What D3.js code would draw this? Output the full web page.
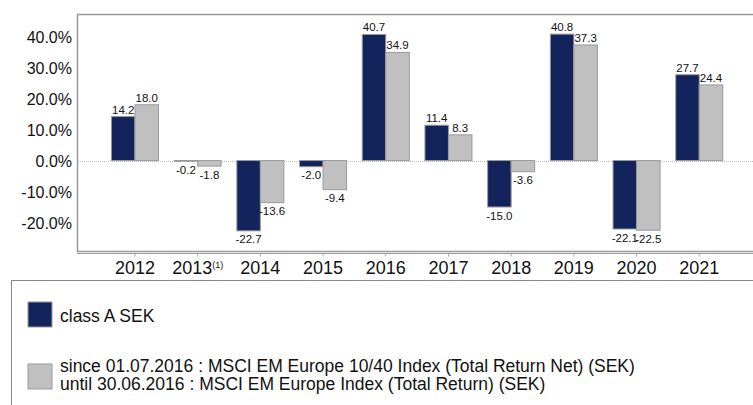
<!DOCTYPE html>
<html>
<head>
<meta charset="utf-8">
<script src="https://cdn.jsdelivr.net/npm/d3@7"></script>
<style>
  body { margin: 0; background: #fff; }
  svg { display: block; font-family: "Liberation Sans", Arial, sans-serif; }
</style>
</head>
<body>
<div id="chart"></div>
<script>
// data
const years = ["2012", "2013", "2014", "2015", "2016", "2017", "2018", "2019", "2020", "2021"];
const fundValues  = [14.2, -0.2, -22.7, -2.0, 40.7, 11.4, -15.0, 40.8, -22.1, 27.7];
const indexValues = [18.0, -1.8, -13.6, -9.4, 34.9, 8.3, -3.6, 37.3, -22.5, 24.4];
const yTicks = [-20, -10, 0, 10, 20, 30, 40];
const seriesKeys = ["fund", "index"];
const legendLabels = [
  ["class A SEK"],
  ["since 01.07.2016 : MSCI EM Europe 10/40 Index (Total Return Net) (SEK)",
   "until 30.06.2016 : MSCI EM Europe Index (Total Return) (SEK)"]
];

const colors = { fund: "#13235b", index: "#c0c0c0" };

const W = 753, H = 405;
const frame = { left: 77, top: 14, right: 760, bottom: 251 };

const svg = d3.select("#chart").append("svg")
  .attr("width", W)
  .attr("height", H);

const rows = years.map((yr, i) => ({ year: yr, fund: fundValues[i], index: indexValues[i] }));

// scales
const x = d3.scaleBand()
  .domain(years)
  .range([103.6, 730.6])
  .paddingInner(0.25)
  .paddingOuter(0.125);

const x1 = d3.scaleBand()
  .domain(seriesKeys)
  .range([0, x.bandwidth()]);

const y = d3.scaleLinear()
  .domain([-29.2, 47.3])
  .range([frame.bottom, frame.top]);

// frame
svg.append("rect")
  .attr("x", frame.left + 0.5)
  .attr("y", frame.top + 0.5)
  .attr("width", frame.right - frame.left)
  .attr("height", frame.bottom - frame.top)
  .attr("fill", "none")
  .attr("stroke", "#999")
  .attr("stroke-width", 1.5);

// y axis labels
svg.append("g")
  .selectAll("text")
  .data(yTicks)
  .join("text")
  .attr("x", 72)
  .attr("y", d => y(d))
  .attr("dy", "0.38em")
  .attr("text-anchor", "end")
  .attr("font-size", "16px")
  .attr("fill", "#111")
  .text(d => d.toFixed(1) + "%");

// zero line
svg.append("line")
  .attr("x1", frame.left + 1)
  .attr("x2", W)
  .attr("y1", Math.round(y(0)) + 0.5)
  .attr("y2", Math.round(y(0)) + 0.5)
  .attr("stroke", "#bbb")
  .attr("stroke-dasharray", "1,1");

// x axis below the frame
const xAxis = svg.append("g")
  .attr("transform", `translate(0,${frame.bottom + 2.5})`)
  .call(d3.axisBottom(x).tickSize(3).tickFormat(""));
xAxis.select(".domain").attr("stroke", "#999").attr("d", `M${frame.left},0H${W}`);
xAxis.selectAll(".tick line").attr("stroke", "#aaa");

const xLabels = svg.append("g")
  .selectAll("text")
  .data(years)
  .join("text")
  .attr("x", d => x(d) + x.bandwidth() / 2)
  .attr("y", 274)
  .attr("text-anchor", "middle")
  .attr("font-size", "18px")
  .attr("fill", "#111");
xLabels.append("tspan").text(d => d);
xLabels.filter(d => d === "2013")
  .append("tspan")
  .attr("font-size", "9px")
  .attr("dy", "-6")
  .text("(1)");

// bars
const groups = svg.append("g")
  .selectAll("g")
  .data(rows)
  .join("g")
  .attr("transform", d => `translate(${x(d.year)},0)`);

const segs = groups.selectAll("g")
  .data(d => seriesKeys.map(k => ({ key: k, value: d[k] })))
  .join("g");

segs.append("rect")
  .attr("x", d => x1(d.key))
  .attr("y", d => y(Math.max(0, d.value)))
  .attr("width", x1.bandwidth())
  .attr("height", d => Math.abs(y(d.value) - y(0)))
  .attr("fill", d => colors[d.key])
  .attr("stroke", "#9a9a9a")
  .attr("stroke-width", 1);

segs.append("text")
  .attr("x", d => x1(d.key) + x1.bandwidth() / 2)
  .attr("y", d => d.value >= 0 ? y(d.value) - 3 : y(d.value) + 12.5)
  .attr("text-anchor", "middle")
  .attr("font-size", "11.5px")
  .attr("fill", "#111")
  .text(d => d.value.toFixed(1));

// legend
svg.append("rect")
  .attr("x", 11.5)
  .attr("y", 280.5)
  .attr("width", 800)
  .attr("height", 200)
  .attr("fill", "none")
  .attr("stroke", "#888")
  .attr("stroke-width", 1);

const legendPos = [
  { key: "fund", sqY: 302, textY: [316] },
  { key: "index", sqY: 364, textY: [366, 384] }
];

legendPos.forEach((p, i) => {
  svg.append("rect")
    .attr("x", 28)
    .attr("y", p.sqY)
    .attr("width", 24)
    .attr("height", 25)
    .attr("fill", colors[p.key])
    .attr("stroke", "#9a9a9a");
  legendLabels[i].forEach((line, j) => {
    svg.append("text")
      .attr("x", 60)
      .attr("y", p.textY[j])
      .attr("dy", "0.36em")
      .attr("font-size", "17.5px")
      .attr("fill", "#111")
      .text(line);
  });
});
</script>
</body>
</html>
